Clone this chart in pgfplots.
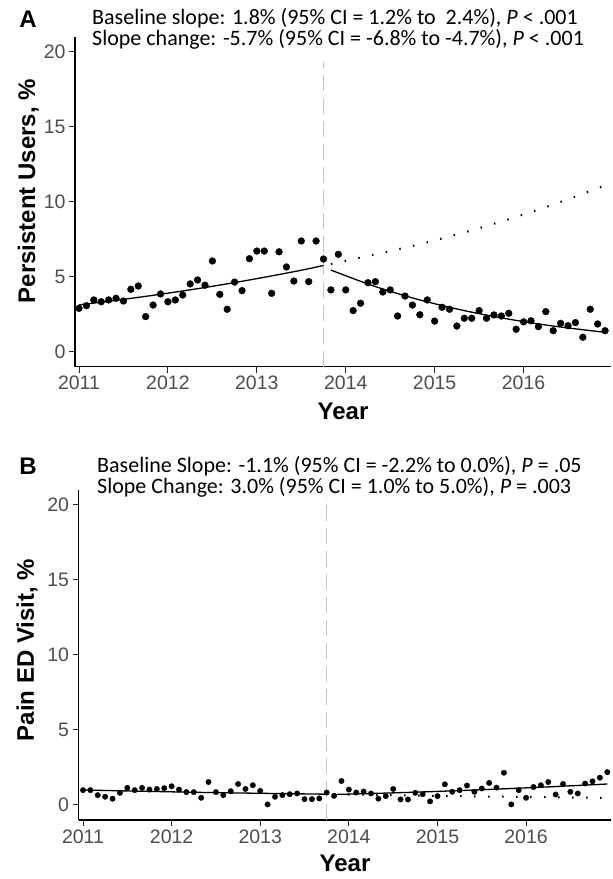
\documentclass[border=0pt]{standalone}
\usepackage{fontspec}
\setmainfont{Liberation Sans}
\newfontfamily\annfont{Carlito}
\usepackage{pgfplots}
\usepackage{pgfplotstable}
\pgfplotsset{compat=1.18}
\definecolor{tickgray}{HTML}{4D4D4D}
\definecolor{vgray}{HTML}{C4C4C4}

\pgfplotstableread{
i v
0 2.89
1 3.07
2 3.45
3 3.33
4 3.45
5 3.56
6 3.38
7 4.16
8 4.38
9 2.34
10 3.11
11 3.85
12 3.33
13 3.45
14 3.78
15 4.52
16 4.78
17 4.43
18 6.05
19 3.82
20 2.83
21 4.64
22 4.07
23 6.20
24 6.71
25 6.71
26 3.89
27 6.66
28 5.65
29 4.71
30 7.38
31 4.67
32 7.38
33 6.18
34 4.12
35 6.49
36 4.12
37 2.74
38 3.23
39 4.60
40 4.67
41 3.98
42 4.12
43 2.38
44 3.71
45 3.11
46 2.46
47 3.45
48 2.04
49 2.96
50 2.83
51 1.71
52 2.23
53 2.23
54 2.74
55 2.23
56 2.45
57 2.38
58 2.56
59 1.50
60 1.99
61 2.06
62 1.67
63 2.67
64 1.40
65 1.89
66 1.73
67 1.94
68 0.96
69 2.83
70 1.85
71 1.40
}\dataA

\pgfplotstableread{
i v
0 0.99
1 0.99
2 0.66
3 0.55
4 0.42
5 0.81
6 1.14
7 0.99
8 1.14
9 1.03
10 1.07
11 1.12
12 1.25
13 1.03
14 0.86
15 0.86
16 0.48
17 1.53
18 0.86
19 0.66
20 0.92
21 1.40
22 1.07
23 1.32
24 0.94
25 0.04
26 0.55
27 0.66
28 0.72
29 0.77
30 0.39
31 0.39
32 0.44
33 0.83
34 0.61
35 1.60
36 1.03
37 0.83
38 0.90
39 0.77
40 0.42
41 0.59
42 1.07
43 0.37
44 0.37
45 0.81
46 0.72
47 0.24
48 0.59
49 1.38
50 0.88
51 0.99
52 1.30
53 0.88
54 1.10
55 1.47
56 1.16
57 2.15
58 0.04
59 0.99
60 0.48
61 1.20
62 1.32
63 1.53
64 0.70
65 1.40
66 0.88
67 0.77
68 1.43
69 1.58
70 1.82
71 2.19
}\dataB

\pgfplotsset{
  panel/.style={
    scale only axis,
    axis lines*=left,
    axis line style={-, line width=1.4pt, black},
    tick align=outside,
    major tick length=6pt,
    tick style={line width=1pt, color=black!85},
    xtick={0,12,24,36,48,60},
    xticklabels={2011,2012,2013,2014,2015,2016},
    ytick={0,5,10,15,20},
    ymin=-1, ymax=21,
    /pgf/number format/assume math mode=true,
    ticklabel style={font=\fontsize{19.5}{19.5}\selectfont, text=tickgray},
    clip=false,
  }
}

\begin{document}
\begin{tikzpicture}[x=1pt,y=1pt]
\path[use as bounding box] (0,0) rectangle (613,879);

% Panel A
\begin{axis}[panel, at={(75pt,512.3pt)}, anchor=south west,
  width=536pt, height=330pt, xmin=-0.54, xmax=71.8]
\addplot[vgray, line width=1.3pt, dash pattern=on 16pt off 7pt] coordinates {(33,-1) (33,19.3)};
\addplot[only marks, mark=*, mark size=3.4pt, black] table[x=i, y=v] {\dataA};
\addplot[black, line width=1.3pt, smooth] coordinates {(0,3.12) (6,3.49) (12,3.90) (18,4.36) (24,4.87) (30,5.43) (33,5.75)};
\addplot[black, line width=1.3pt, smooth] coordinates {(34,5.44) (40,4.34) (46,3.45) (52,2.74) (58,2.17) (64,1.71) (71,1.29)};
\addplot[black, line width=2pt, dash pattern=on 1.5pt off 12.5pt, smooth] coordinates {(34,5.85) (40,6.49) (46,7.17) (52,7.95) (58,8.83) (64,9.81) (71,11.08)};
\end{axis}

% Panel B
\begin{axis}[panel, at={(78.5pt,59pt)}, anchor=south west,
  width=532.5pt, height=330pt, xmin=-0.61, xmax=71.5]
\addplot[vgray, line width=1.3pt, dash pattern=on 16pt off 7pt] coordinates {(33,-1) (33,20.5)};
\addplot[only marks, mark=*, mark size=2.7pt, black] table[x=i, y=v] {\dataB};
\addplot[black, line width=1.3pt, smooth] coordinates {(0,1.00) (16,0.84) (33,0.72)};
\addplot[black, line width=1.3pt, smooth] coordinates {(34,0.70) (40,0.78) (46,0.87) (52,0.98) (58,1.10) (64,1.23) (71,1.40)};
\addplot[black, line width=2pt, dash pattern=on 1.5pt off 12.5pt, smooth] coordinates {(34,0.71) (40,0.67) (46,0.62) (52,0.58) (58,0.55) (64,0.51) (71,0.47)};
\end{axis}

% Panel letters
\node[anchor=base, font=\bfseries\fontsize{24}{24}\selectfont] at (28,851) {A};
\node[anchor=base, font=\bfseries\fontsize{24}{24}\selectfont] at (28,404) {B};

% Annotations
\node[anchor=base west, inner sep=0pt, font=\annfont\fontsize{22}{22}\selectfont] at (92,854) {Baseline slope: 1.8\% (95\% CI = 1.2\% to\ \ 2.4\%), \textit{P} < .001};
\node[anchor=base west, inner sep=0pt, font=\annfont\fontsize{22}{22}\selectfont] at (92,833) {Slope change: -5.7\% (95\% CI = -6.8\% to -4.7\%), \textit{P} < .001};
\node[anchor=base west, inner sep=0pt, font=\annfont\fontsize{22}{22}\selectfont] at (97,406) {Baseline Slope: -1.1\% (95\% CI = -2.2\% to 0.0\%), \textit{P} = .05};
\node[anchor=base west, inner sep=0pt, font=\annfont\fontsize{22}{22}\selectfont] at (97,385) {Slope Change: 3.0\% (95\% CI = 1.0\% to 5.0\%), \textit{P} = .003};

% Axis titles
\node[anchor=base, rotate=90, font=\bfseries\fontsize{24}{24}\selectfont] at (35,688) {Persistent Users, \%};
\node[anchor=base, rotate=90, font=\bfseries\fontsize{24}{24}\selectfont] at (34,229) {Pain ED Visit, \%};
\node[anchor=base, font=\bfseries\fontsize{24}{24}\selectfont] at (343,459) {Year};
\node[anchor=base, font=\bfseries\fontsize{24}{24}\selectfont] at (345,8) {Year};
\end{tikzpicture}
\end{document}
